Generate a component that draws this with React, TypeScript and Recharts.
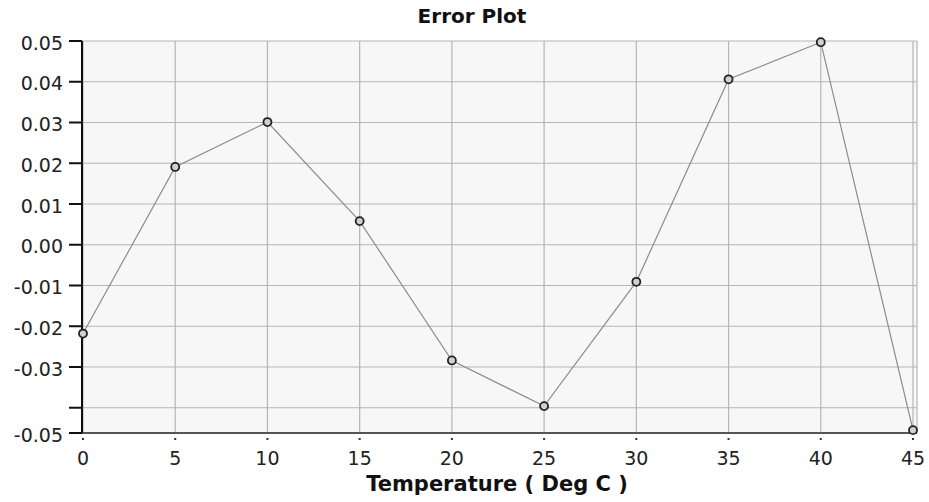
import { LineChart, Line, XAxis, YAxis, CartesianGrid } from 'recharts';

const temperatures = [0, 5, 10, 15, 20, 25, 30, 35, 40, 45];
const errors = [-0.0218, 0.0191, 0.0301, 0.0058, -0.0284, -0.0396, -0.0091, 0.0406, 0.0497, -0.0455];
const xTicks = [0, 5, 10, 15, 20, 25, 30, 35, 40, 45];
const yTicks = [-0.0462, -0.04, -0.03, -0.02, -0.01, 0, 0.01, 0.02, 0.03, 0.04, 0.05];

const data = temperatures.map((t, i) => ({ t, err: errors[i] }));

const FONT = '"DejaVu Sans", Verdana, sans-serif';

const XTick = (props: any) => {
  const { x, y, payload } = props;
  return (
    <g>
      <rect x={x - 1} y={y + 5} width={2} height={2} fill="#333" />
      <text x={x} y={y + 32} textAnchor="middle" fontSize={19} fill="#222" fontFamily={FONT}>
        {payload.value}
      </text>
    </g>
  );
};

const formatY = (v: number) => (Math.abs(v + 0.04) < 1e-9 ? '' : v.toFixed(2));

export default function App() {
  return (
    <div style={{ position: 'relative', width: 929, height: 502, background: '#fff', fontFamily: FONT }}>
      <style>{'body{margin:0}'}</style>
      <div style={{ position: 'absolute', left: 372, width: 200, top: 4, textAlign: 'center', fontWeight: 'bold', fontSize: 20, color: '#111' }}>
        Error Plot
      </div>
      <LineChart width={929} height={502} data={data} margin={{ top: 41, right: 12, bottom: 0, left: 0 }}>
        <CartesianGrid fill="#f7f7f7" stroke="#b5b5b5" strokeWidth={1.2} />
        <XAxis
          dataKey="t"
          type="number"
          domain={[0, 45]}
          ticks={xTicks}
          padding={{ left: 1, right: 4 }}
          height={69}
          tickSize={0}
          tickMargin={0}
          tickLine={false}
          tick={<XTick />}
          axisLine={{ stroke: '#555', strokeWidth: 2 }}
        />
        <XAxis
          xAxisId="top"
          orientation="top"
          type="number"
          domain={[0, 45]}
          height={0}
          tick={false}
          tickLine={false}
          axisLine={{ stroke: '#111', strokeWidth: 2 }}
        />
        <YAxis
          type="number"
          domain={[-0.0462, 0.05]}
          ticks={yTicks}
          width={82}
          tickSize={13}
          tickMargin={6}
          tickFormatter={formatY}
          tick={{ fontSize: 19, fill: '#222', fontFamily: FONT, dy: 2 }}
          tickLine={{ stroke: '#111', strokeWidth: 2 }}
          axisLine={{ stroke: '#111', strokeWidth: 2 }}
        />
        <YAxis
          yAxisId="right"
          orientation="right"
          type="number"
          domain={[-0.0462, 0.05]}
          width={0}
          tick={false}
          tickLine={false}
          axisLine={{ stroke: '#888', strokeWidth: 1.5 }}
        />
        <Line
          dataKey="err"
          type="linear"
          stroke="#8c8c8c"
          strokeWidth={1.2}
          dot={{ r: 4, stroke: '#222', strokeWidth: 1.8, fill: '#d0d0d0' }}
          isAnimationActive={false}
        />
      </LineChart>
      <div style={{ position: 'absolute', left: 297, width: 400, top: 472, textAlign: 'center', fontWeight: 'bold', fontSize: 21, color: '#111' }}>
        Temperature ( Deg C )
      </div>
    </div>
  );
}
